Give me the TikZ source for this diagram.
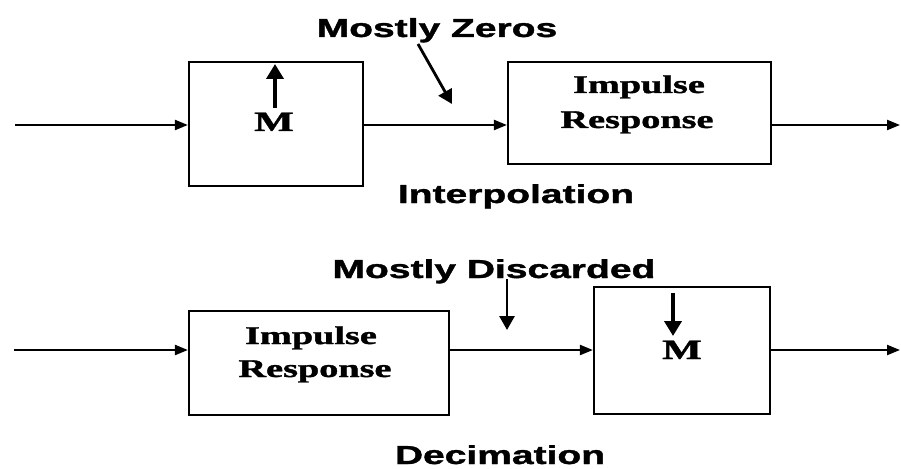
\documentclass[tikz,border=0pt]{standalone}
\usepackage{fontspec}
\usetikzlibrary{arrows.meta,calc}
% label font: heavy bold sans; block font: heavy bold serif; both set wide
\newfontfamily\lblfont[FakeBold=1.2]{Liberation Sans Bold}
\newfontfamily\blkfont[FakeBold=1.2]{Liberation Serif Bold}
\newcommand{\widetext}[1]{\scalebox{1.5}[1]{#1}}
\begin{document}
\begin{tikzpicture}[x=1pt,y=-1pt,
  blockbox/.style={draw,line width=2.2pt,rectangle,inner sep=0pt},
  conn/.style={line width=2.2pt,-{Triangle[length=13pt,width=10pt]}},
  bigarrow/.style={line width=4.5pt,-{Triangle[length=15pt,width=17pt]}},
  pointer/.style={line width=2.8pt,-{Triangle[length=14pt,width=15pt]}},
  caption/.style={font=\lblfont\fontsize{26}{30}\selectfont,inner sep=0pt,anchor=base},
  blocktext/.style={font=\blkfont\fontsize{25.5}{33}\selectfont,inner sep=0pt,anchor=base},
  mtext/.style={font=\blkfont\fontsize{28}{30}\selectfont,inner sep=0pt,anchor=base}]
\useasboundingbox[fill=white] (0,0) rectangle (901,468);

% ---------------- interpolation chain ----------------
\node[blockbox,minimum width=174pt,minimum height=124pt] (m1) at (276,124) {};
\node[blockbox,minimum width=263pt,minimum height=102pt] (ir1) at (639.5,113) {};
\coordinate (in1) at (15,125);
\coordinate (out1) at (900,125);

\node[mtext] (m1t) at (274,131) {\widetext{M}};
\coordinate (up1a) at (275,108);
\coordinate (up1b) at (275,64);
\draw[bigarrow] (up1a) -- (up1b);

\node[blocktext] (ir1t1) at (639,93) {\widetext{Impulse}};
\node[blocktext] (ir1t2) at (637,128) {\widetext{Response}};

\draw[conn] (in1) -- (in1 -| m1.west);
\draw[conn] (m1.east |- in1) -- (ir1.west |- in1);
\draw[conn] (ir1.east |- in1) -- (out1);

\node[caption] (zeros) at (437,37) {\widetext{Mostly Zeros}};
\coordinate (zt) at (418,44);
\coordinate (zh) at (452,104);
\draw[pointer] (zt) -- (zh);
\node[caption] (interp) at (516,203) {\widetext{Interpolation}};

% ---------------- decimation chain ----------------
\node[blockbox,minimum width=260pt,minimum height=104pt] (ir2) at (319,363) {};
\node[blockbox,minimum width=176pt,minimum height=127pt] (m2) at (682,350.5) {};
\coordinate (in2) at (14,350);
\coordinate (out2) at (900,350);

\node[blocktext] (ir2t1) at (311,344) {\widetext{Impulse}};
\node[blocktext] (ir2t2) at (315,377) {\widetext{Response}};

\node[mtext] (m2t) at (682,359) {\widetext{M}};
\coordinate (dn2a) at (673,293);
\coordinate (dn2b) at (673,336);
\draw[bigarrow] (dn2a) -- (dn2b);

\draw[conn] (in2) -- (in2 -| ir2.west);
\draw[conn] (ir2.east |- in2) -- (m2.west |- in2);
\draw[conn] (m2.east |- in2) -- (out2);

\node[caption] (disc) at (494,278) {\widetext{Mostly Discarded}};
\coordinate (dt) at (507,279);
\coordinate (dh) at (507,330);
\draw[pointer] (dt) -- (dh);
\node[caption] (decim) at (500,464) {\widetext{Decimation}};
\end{tikzpicture}
\end{document}
